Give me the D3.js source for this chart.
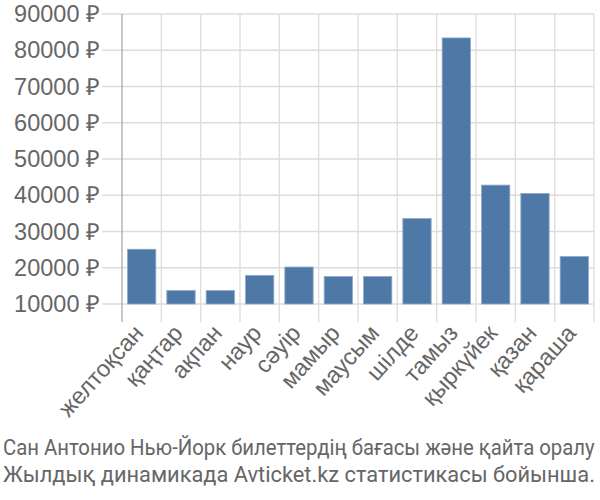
<!DOCTYPE html>
<html><head><meta charset="utf-8">
<script src="https://cdn.jsdelivr.net/npm/d3@7"></script>
<style>body{margin:0;background:#fff}svg{display:block}</style>
</head><body>
<svg id="c" width="600" height="500"></svg>
<script>
const months = ["желтоқсан","қаңтар","ақпан","наур","сәуір","мамыр","маусым","шілде","тамыз","қыркүйек","қазан","қараша"];
const prices = [25100,13700,13700,17900,20200,17600,17600,33600,83400,42800,40500,23100];
const yTicks = [10000,20000,30000,40000,50000,60000,70000,80000,90000];
const titleLines = ["Сан Антонио Нью-Йорк билеттердің бағасы және қайта оралу","Жылдық динамикада Avticket.kz статистикасы бойынша."];

const svg = d3.select("#c");
const L = 122, R = 594, T = 14, B = 304;
const x = d3.scaleBand().domain(months).range([L, R]).padding(0);
const y = d3.scaleLinear().domain([10000, 90000]).range([B, T]);
const font = "'Liberation Sans', Arial, sans-serif";

// horizontal grid
svg.append("g").selectAll("line").data(yTicks).join("line")
  .attr("x1", 102).attr("x2", R).attr("y1", d => y(d)).attr("y2", d => y(d))
  .attr("stroke", "#dddddd").attr("stroke-width", 1.3);
// vertical grid
const bounds = months.map(m => x(m)).concat([R]);
svg.append("g").selectAll("line").data(bounds.slice(1)).join("line")
  .attr("x1", d => d).attr("x2", d => d).attr("y1", T).attr("y2", 322)
  .attr("stroke", "#dddddd").attr("stroke-width", 1.3);
// left axis line
svg.append("line").attr("x1", L).attr("x2", L).attr("y1", T).attr("y2", 322)
  .attr("stroke", "#aaaaaa").attr("stroke-width", 1.3);

// bars
const bw = x.bandwidth() * 0.72;
svg.append("g").selectAll("rect").data(prices).join("rect")
  .attr("x", (d, i) => x(months[i]) + (x.bandwidth() - bw) / 2)
  .attr("width", bw)
  .attr("y", d => y(d))
  .attr("height", d => B - y(d))
  .attr("fill", "#4e79a7")
  .attr("stroke", "#8eaacb").attr("stroke-width", 0.8);

// y labels
svg.append("g").selectAll("text").data(yTicks).join("text")
  .attr("x", 100).attr("y", d => y(d) + 8)
  .attr("text-anchor", "end")
  .attr("font-family", font).attr("font-size", 23.5).attr("fill", "#666666")
  .text(d => d + " ₽");

// x labels
svg.append("g").selectAll("text").data(months).join("text")
  .attr("text-anchor", "end")
  .attr("transform", m => `translate(${x(m) + x.bandwidth() / 2 + 3},${334}) rotate(-48)`)
  .attr("font-family", font).attr("font-size", 23.5).attr("fill", "#666666")
  .text(m => m);

// title (horizontally condensed to fit the width)
svg.append("g").selectAll("text").data(titleLines).join("text")
  .attr("x", 0).attr("y", 0)
  .attr("font-family", "'Liberation Sans Narrow', 'Roboto', sans-serif")
  .attr("font-size", 22).attr("fill", "#666666")
  .text(d => d)
  .each(function(d, i) {
    const w = this.getComputedTextLength();
    const s = Math.min(1, 592 / w);
    d3.select(this).attr("transform", `translate(3,${455 + i * 26.5}) scale(${s},1)`);
  });
</script>
</body></html>
